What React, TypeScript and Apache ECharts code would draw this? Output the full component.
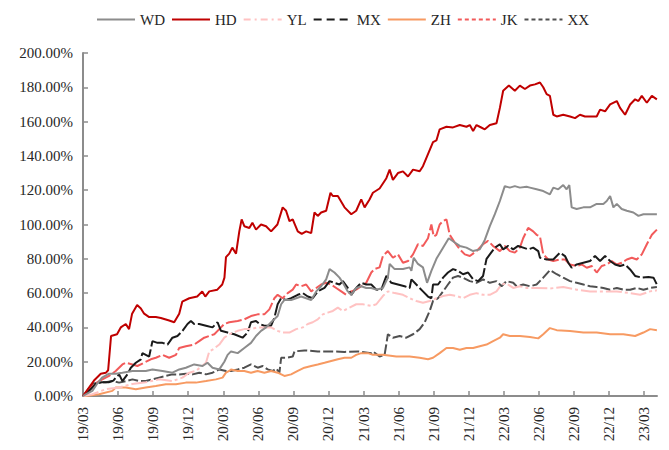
import React, { useEffect, useRef } from "react";
import * as echarts from "echarts";

// x = months since 2019-03, y = cumulative return (%)
const seriesNames = ["WD", "HD", "YL", "MX", "ZH", "JK", "XX"];

const WD: number[][] = [[0,0],[0.23,1],[0.8,3],[1.2,7],[1.63,10.7],[2.23,13],[2.8,13],[3.37,13.6],[4.23,14.6],[4.8,14.6],[5.37,14.6],[5.94,15.5],[6.8,14.6],[7.65,13.6],[8.23,15.5],[8.8,16.5],[9.51,18.4],[10.23,17.5],[10.65,19.4],[11.08,16.5],[11.66,15.5],[12.09,20],[12.37,24],[12.66,26],[13.23,25],[13.8,28],[14.37,31],[14.8,35],[15.23,38],[15.66,40],[16.09,43],[16.65,46.6],[16.95,53.5],[17.23,56],[17.8,56],[18.23,57],[18.66,58],[19.09,57],[19.52,56],[19.95,61],[20.37,64],[20.8,68],[21.09,74],[21.51,72],[21.94,69],[22.23,66],[22.65,61],[22.95,59],[23.37,63],[23.8,64],[24.23,63],[24.66,63],[25.09,62],[25.65,63],[26.08,69],[26.23,77],[26.66,74],[27.37,74],[27.94,75],[28.09,73],[28.29,80.6],[28.65,77],[29.08,75],[29.43,66],[29.8,73],[30.23,80],[30.8,86.5],[31.29,92],[31.8,89.5],[32.23,87.5],[32.8,86.5],[33.37,84.5],[33.94,85.5],[34.37,91],[34.8,99],[35.23,106],[35.66,113.7],[36.08,122.4],[36.51,121.5],[36.94,122.4],[37.37,121.5],[37.94,122],[38.23,121.5],[38.8,120.5],[39.37,119.5],[39.94,117.6],[40.23,121.5],[40.65,120.5],[41.08,123],[41.37,120.5],[41.6,123],[41.8,110],[42.23,109],[42.8,110],[43.37,110],[43.94,112],[44.51,112],[44.8,113.7],[45.09,116.6],[45.37,110],[45.66,112],[46.08,109],[46.52,108],[47.08,107],[47.51,105],[47.94,106],[48.51,106],[49.09,106]];

const HD: number[][] = [[0,0],[0.94,9],[1.52,13],[1.95,13.5],[2.15,15],[2.4,35],[2.91,36],[3.23,40],[3.66,42],[3.94,39],[4.2,48],[4.63,53],[4.95,51],[5.23,48],[5.66,46],[6.23,46],[6.66,45.5],[7.37,44],[7.8,43],[8.23,48],[8.49,55],[9.09,57],[9.77,58],[10.2,61],[10.46,58],[10.8,61],[11.49,62],[11.91,65],[12.1,69],[12.23,81],[12.51,83],[12.77,86.5],[13.09,83],[13.37,96],[13.57,103],[13.8,99],[14.23,98],[14.49,101],[14.8,97],[15.23,100],[15.66,99],[16.09,96],[16.63,100],[17.08,110],[17.37,108],[17.66,102],[17.94,103],[18.37,96],[18.71,94.5],[19.09,96],[19.52,95],[19.8,107],[20.08,105],[20.37,107],[20.8,108],[21.17,118.5],[21.37,116.6],[21.8,116.6],[22.37,110],[22.95,106],[23.37,108],[23.8,114.6],[24.09,110],[24.51,114.6],[24.8,118.5],[25.37,121],[25.95,127],[26.23,132],[26.51,126],[26.94,130],[27.37,131],[27.8,128],[28.23,132],[28.8,131],[29.08,134],[29.51,141],[29.94,148],[30.23,149],[30.51,155.5],[31.09,157],[31.65,156.6],[32.23,158],[32.8,157],[33.09,158],[33.37,154.5],[33.66,158],[33.94,157],[34.37,155.5],[34.8,158],[35.37,159],[35.66,168],[35.94,178],[36.43,181],[36.94,178],[37.37,181],[37.8,179],[38.23,181],[38.66,181.7],[39.09,182.8],[39.37,180],[39.66,176],[39.94,175],[40.23,164],[40.52,163],[41.08,164],[41.66,163],[42.09,162],[42.51,164],[42.94,163],[43.52,163],[43.94,163],[44.23,167],[44.66,166],[45.09,170],[45.66,172],[45.94,168],[46.37,164],[46.8,170],[47.23,173],[47.51,172],[47.8,175],[48.23,171],[48.66,175],[49.09,173]];

const YL: number[][] = [[0,0],[0.8,1],[1.95,4],[3.09,5],[4.23,7],[5.37,8],[6.51,9.7],[7.65,8.7],[8.51,10.7],[9.09,13.6],[9.66,14.6],[10.52,19.4],[10.8,26],[11.08,27],[11.66,30],[12.09,34],[12.51,36],[13.23,38],[13.8,39],[14.37,39],[14.94,40],[15.51,40],[16.09,40],[16.65,38],[17.08,37],[17.66,37],[18.23,39],[18.8,40],[19.23,42],[19.65,43],[20.08,44.7],[20.51,47.6],[20.94,48.6],[21.37,49.6],[21.8,51.5],[22.23,49.6],[22.8,51.5],[23.37,53.5],[23.94,53.5],[24.66,52.5],[25.09,53.5],[25.65,58.3],[26.08,61],[26.66,60],[27.37,59],[27.94,57],[28.51,55.4],[29.08,54.4],[29.66,55.4],[30.23,57],[30.8,58.3],[31.37,59],[31.94,58.3],[32.51,57],[33.09,59],[33.66,60],[34.22,59],[34.8,59],[35.37,61],[35.8,65],[36.23,65.6],[36.8,63],[37.37,64],[37.94,63],[38.8,63],[39.94,62.7],[41.08,63.5],[42.23,62],[43.37,61],[44.51,61],[45.66,61],[46.8,60],[47.66,59],[48.51,61],[49.09,61.6]];

const MX: number[][] = [[0,0],[0.23,1],[1.09,7],[1.6,8],[2.2,8],[2.6,9],[2.8,10.7],[3.09,12.6],[3.37,8.7],[3.8,12.6],[4.09,16.5],[4.52,19.4],[4.95,21.4],[5.08,25],[5.37,24],[5.66,23],[5.94,32],[6.37,31],[6.8,31],[7.23,30],[7.65,34],[8.08,35],[8.51,38],[8.94,42],[9.23,43.7],[9.51,42],[9.94,42],[10.52,41],[11.08,40],[11.51,43],[11.8,38],[12.37,37],[12.94,36],[13.65,34],[14.08,37],[14.37,43],[14.8,43.7],[15.09,42],[15.51,41],[16.09,41],[16.37,45.6],[16.65,53.5],[16.95,57],[17.37,56],[17.8,57],[18.37,59],[18.8,60],[19.23,58],[19.65,57],[20.08,61],[20.66,63],[21.09,67],[21.51,66],[21.94,65],[22.23,67],[22.65,63],[22.95,59],[23.37,63],[23.8,66],[24.23,65],[24.66,65],[25.09,62],[25.52,62],[25.95,70],[26.37,66],[26.94,65],[27.51,64],[27.94,63],[28.09,68],[28.51,65],[29.08,61],[29.51,58],[29.8,57],[29.94,65],[30.37,65],[30.8,69],[31.22,72],[31.65,74],[32.08,73],[32.51,71],[32.94,72],[33.37,68],[33.8,67],[34.22,70],[34.52,80],[34.8,82.6],[35.23,86.5],[35.66,88.5],[35.94,85.5],[36.37,87.5],[36.8,85.5],[37.22,87.5],[37.65,86.5],[38.08,85.5],[38.51,86.5],[38.94,84.5],[39.09,80.6],[39.66,79.6],[40.23,79.6],[40.8,83.6],[41.23,81.6],[41.51,77.7],[41.8,74.8],[42.23,76.7],[42.8,77.7],[43.37,78.7],[43.8,81.6],[44.23,78.7],[44.66,81.6],[45.09,78.7],[45.51,76.7],[45.94,75.8],[46.37,76.7],[46.8,73.8],[47.23,70],[47.8,69],[48.37,69.4],[48.8,69],[49.09,65]];

const ZH: number[][] = [[0,0],[0.23,0],[1.37,1],[2.51,3],[2.8,5],[3.66,5],[4.52,4],[5.37,5],[6.23,5.8],[7.09,6.8],[7.95,6.8],[8.8,7.8],[9.66,7.8],[10.52,8.7],[11.37,9.7],[11.94,10.7],[12.23,13.6],[12.51,14.6],[12.66,15.5],[13.23,14.6],[13.8,14.6],[14.37,13.6],[14.94,14.6],[15.51,13.6],[16.09,14.6],[16.65,13.6],[17.23,11.7],[17.8,12.6],[18.37,14.6],[18.94,16.5],[19.52,17.5],[20.08,18.4],[20.66,19.4],[21.23,20.4],[21.8,21.4],[22.37,22.3],[22.95,22.3],[23.37,24],[23.8,25],[24.37,25],[24.8,24],[25.65,24],[26.8,23],[27.94,23],[28.8,22.3],[29.51,21.4],[29.94,22.3],[30.51,25],[31.09,28],[31.65,28],[32.23,27],[32.8,28],[33.37,28],[33.94,29],[34.52,30],[35.08,32],[35.66,34],[35.94,36],[36.51,35],[37.09,35],[37.37,35],[38.23,34.4],[38.94,33.6],[39.37,36],[39.94,39.6],[40.52,38.4],[41.66,37.9],[42.8,37],[43.94,37],[45.09,36],[46.22,36],[47.23,35],[47.94,37],[48.51,39],[49.09,38.4]];

const JK: number[][] = [[0,0],[0.23,1],[0.8,5.8],[1.37,8.7],[2.23,11.7],[2.8,14.6],[3.37,18.4],[3.66,19.4],[4.23,18.4],[4.65,17.5],[5.23,19.4],[5.8,21.4],[6.23,22.3],[6.8,24],[7.37,22.3],[7.95,24],[8.23,28],[8.8,29],[9.51,30],[9.94,32],[10.37,34],[10.8,35],[11.23,36],[11.66,39],[12.09,42],[12.51,43],[13.23,43.7],[13.8,44.7],[14.37,46.6],[14.94,47.6],[15.51,47.6],[15.94,50.5],[16.37,57],[16.65,59],[17.08,57],[17.51,60],[17.94,62],[18.23,65],[18.66,64],[19.09,65],[19.52,61],[19.95,63],[20.37,65],[20.8,66],[21.23,65],[21.66,63],[22.09,61],[22.52,59],[22.95,61],[23.37,62],[23.8,64],[24.23,66],[24.66,72],[24.94,74],[25.37,75],[25.65,81.6],[26.08,84.5],[26.51,80.6],[26.94,82.6],[27.37,77.7],[27.8,78.7],[28.23,82.6],[28.65,88.5],[29.08,87.5],[29.51,92],[29.8,100],[30.0,93],[30.23,94],[30.51,100],[30.8,102],[31.09,103],[31.37,94],[31.8,89.5],[32.23,85.5],[32.66,82.6],[33.09,81.6],[33.66,84.5],[34.22,88.5],[34.65,90.4],[35.08,87.5],[35.66,84.5],[36.08,87.5],[36.51,84.5],[36.94,83.6],[37.37,86.5],[37.65,92],[38.08,98],[38.51,96],[38.8,94],[39.09,93],[39.37,82.6],[39.8,79.6],[40.23,78.7],[40.8,79.6],[41.23,79.6],[41.66,76.7],[42.23,75.8],[42.66,76.7],[43.09,74.8],[43.52,75.8],[43.94,72],[44.37,75.8],[44.8,76.7],[45.23,78.7],[45.66,76.7],[46.08,77.7],[46.52,79.6],[46.95,80.6],[47.37,79.6],[47.8,82.6],[48.23,88.5],[48.66,94],[49.09,97]];

const XX: number[][] = [[0,0],[0.8,7],[1.37,8],[1.95,8],[2.51,8.7],[3.09,7.8],[3.66,8.7],[4.23,9.7],[4.8,8.7],[5.37,8.7],[5.94,9.7],[6.51,10.7],[7.09,11.7],[7.65,12.6],[8.23,12.6],[8.8,13],[9.37,12.6],[9.94,13.6],[10.52,12.6],[11.08,13.6],[11.66,15.5],[12.23,14.6],[12.66,14.6],[13.23,15.5],[13.8,16.5],[14.37,18.4],[14.94,16.5],[15.37,17.5],[15.8,15.5],[16.23,14.6],[16.52,16],[16.8,13.6],[16.95,22.3],[17.37,22.3],[17.94,23],[18.09,26],[18.94,26.6],[20.08,26],[21.23,26],[22.37,25.7],[23.51,26],[24.66,25],[24.8,26],[25.37,23],[25.8,24],[26.08,36],[26.51,34],[27.09,35],[27.66,34],[28.23,36],[28.8,39],[29.23,43],[29.66,49.6],[29.94,55.4],[30.37,57],[30.8,61],[31.22,65],[31.65,69],[32.08,70],[32.51,69],[33.09,67],[33.66,66],[34.22,68],[34.8,66],[35.37,67],[35.8,64],[36.23,67],[36.8,66],[37.09,64],[37.65,65],[38.23,64],[38.8,65],[39.37,69],[39.94,73.4],[40.52,71],[41.08,69],[41.66,67],[42.23,66],[42.8,65],[43.37,64],[43.94,63.5],[44.51,63],[45.09,62],[45.66,63],[46.22,62],[46.8,62],[47.37,63],[47.94,62],[48.51,63],[49.09,63.5]];

const seriesData = [WD, HD, YL, MX, ZH, JK, XX];
const colors = ["#8c8c8c", "#c00000", "#ffc2c2", "#1a1a1a", "#f79a62", "#f25a5a", "#505050"];
const chartDash: any[] = ["solid", "solid", [16, 3, 3, 3], [18, 3], "solid", [16, 3], [10, 3]];
const legendDash: any[] = ["solid", "solid", [7, 4, 2, 4], [8, 5], "solid", [4, 3], [4, 3]];

const yTicks = { min: 0, max: 200, interval: 20 };
const xTicks = { min: 0, max: 49.1, interval: 3 };

const FONT = "'Liberation Serif', 'Times New Roman', serif";

function monthLabel(m: number): string {
  const idx = 2 + Math.round(m);
  const yy = 19 + Math.floor(idx / 12);
  const mm = (idx % 12) + 1;
  return `${yy}/${mm < 10 ? "0" + mm : mm}`;
}

export default function App() {
  const ref = useRef<HTMLDivElement>(null);
  useEffect(() => {
    if (!ref.current) return;
    const chart = echarts.init(ref.current, undefined, { renderer: "svg" });
    const axisColor = "#8c8c8c";
    chart.setOption({
      animation: false,
      backgroundColor: "#ffffff",
      textStyle: { fontFamily: FONT },
      legend: {
        top: 7,
        left: 91,
        itemWidth: 38,
        itemHeight: 14,
        itemGap: 6,
        textStyle: { fontFamily: FONT, fontSize: 15, color: "#262626" },
        data: seriesNames.map((n, i) => ({
          name: n,
          itemStyle: { color: "transparent", opacity: 0, borderWidth: 0 },
          lineStyle: { color: colors[i], width: 2, type: legendDash[i], opacity: 1 },
        })),
      },
      grid: { left: 83, right: 12, top: 53, bottom: 54, containLabel: false },
      xAxis: {
        type: "value",
        min: xTicks.min,
        max: xTicks.max,
        interval: xTicks.interval,
        splitLine: { show: false },
        axisLine: { show: true, lineStyle: { color: axisColor, width: 2 } },
        axisTick: { show: true, inside: true, length: 5, lineStyle: { color: axisColor, width: 1.5 } },
        axisLabel: {
          rotate: 90,
          margin: 11,
          fontSize: 15,
          fontFamily: FONT,
          color: "#262626",
          showMaxLabel: false,
          formatter: (v: number) => (Math.abs(v / 3 - Math.round(v / 3)) < 1e-6 ? monthLabel(v) : ""),
        },
      },
      yAxis: {
        type: "value",
        min: yTicks.min,
        max: yTicks.max,
        interval: yTicks.interval,
        splitLine: { show: false },
        axisLine: { show: true, lineStyle: { color: axisColor, width: 2 } },
        axisTick: { show: true, inside: true, length: 5, lineStyle: { color: axisColor, width: 1.5 } },
        axisLabel: {
          margin: 10,
          fontSize: 15,
          fontFamily: FONT,
          color: "#262626",
          formatter: (v: number) => v.toFixed(2) + "%",
        },
      },
      series: seriesNames.map((n, i) => ({
        name: n,
        type: "line",
        data: seriesData[i],
        symbol: "none",
        showSymbol: false,
        color: colors[i],
        lineStyle: { color: colors[i], width: 2, type: chartDash[i] },
        z: 10 - i,
      })),
    });
    return () => chart.dispose();
  }, []);
  return (
    <div
      ref={ref}
      style={{ position: "absolute", left: 0, top: 0, width: 669, height: 450 }}
    />
  );
}
